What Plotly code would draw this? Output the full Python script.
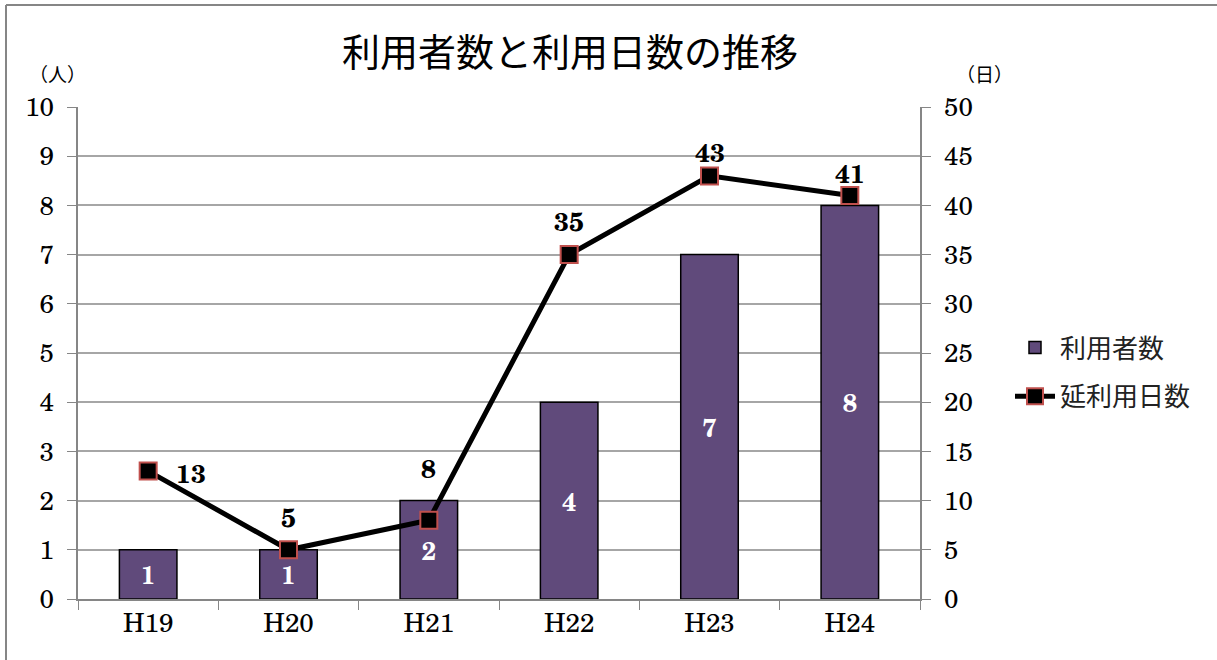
import plotly.graph_objects as go

categories = ["H19", "H20", "H21", "H22", "H23", "H24"]
users = [1, 1, 2, 4, 7, 8]
days = [13, 5, 8, 35, 43, 41]

serif = "Century Schoolbook, TeX Gyre Schola, Liberation Serif, DejaVu Serif, serif"
cjk = "Noto Sans CJK JP, sans-serif"

W, H = 1217, 660
L, T = 78, 107
PW, PH = 842, 492
R, B = W - L - PW, H - T - PH

# label offsets (pixels) for the line's data labels
label_shift = [(26, -2, "left"), (0, 33, "center"), (0, 52, "center"),
               (0, 34, "center"), (0, 24, "center"), (0, 23, "center")]


def px(xw):
    return (xw - L) / PW


def py(yw):
    return (T + PH - yw) / PH


fig = go.Figure()
fig.add_trace(go.Bar(
    x=categories, y=users, name="利用者数", legendgroup="a",
    marker=dict(color="#604A7B", line=dict(color="#000000", width=1.5)),
    width=0.41,
    text=["<b>%d</b>" % v for v in users], textposition="inside", insidetextanchor="middle",
    textfont=dict(family=serif, size=25, color="white"),
    textangle=0,
))
fig.add_trace(go.Scatter(
    x=categories, y=days, name="延利用日数", yaxis="y2", mode="lines+markers", legendgroup="b",
    line=dict(color="#000000", width=5),
    marker=dict(symbol="square", size=17, color="#000000", line=dict(color="#C0504D", width=2)),
))

annotations = []
for c, v, (xs, ys, xa) in zip(categories, days, label_shift):
    annotations.append(dict(
        x=c, y=v, xref="x", yref="y2", text="<b>%d</b>" % v, showarrow=False,
        xshift=xs, yshift=ys, xanchor=xa, yanchor="middle",
        font=dict(family=serif, size=26, color="#000000"),
    ))

annotations += [
    dict(text="（人）", xref="paper", yref="paper", x=px(57), y=py(73),
         showarrow=False, xanchor="center", yanchor="middle",
         font=dict(family=cjk, size=19, color="#000000")),
    dict(text="（日）", xref="paper", yref="paper", x=px(985), y=py(73),
         showarrow=False, xanchor="center", yanchor="middle",
         font=dict(family=cjk, size=19, color="#000000")),
]

axis_common = dict(
    ticks="outside", ticklen=9, tickcolor="#868686", showline=True, linecolor="#868686",
    linewidth=1.5, tickfont=dict(family=serif, size=26, color="#000000"), zeroline=False,
)

fig.update_layout(
    width=W, height=H,
    margin=dict(l=L, r=R, t=T, b=B, pad=0),
    paper_bgcolor="white", plot_bgcolor="white",
    title=dict(text="利用者数と利用日数の推移", x=570 / W, xanchor="center",
               y=1 - 53 / H, yanchor="middle",
               font=dict(family=cjk, size=38, color="#000000")),
    showlegend=True,
    legend=dict(x=px(1010), y=py(372), xanchor="left", yanchor="middle",
                font=dict(family=cjk, size=26, color="#222222"),
                bgcolor="rgba(0,0,0,0)", tracegroupgap=12, itemwidth=40),
    xaxis=dict(type="category", showgrid=False, tickson="boundaries", **axis_common),
    yaxis=dict(range=[0, 10], dtick=1, showgrid=True, gridcolor="#A6A6A6", gridwidth=1.5,
               ticklabelstandoff=8, **axis_common),
    yaxis2=dict(range=[0, 50], dtick=5, overlaying="y", side="right", showgrid=False,
                ticklabelstandoff=8, **axis_common),
    annotations=annotations,
    shapes=[
        dict(type="line", xref="paper", yref="paper",
             x0=px(6), x1=px(6), y0=py(H + 5), y1=py(5),
             line=dict(color="#868686", width=2), layer="below"),
        dict(type="line", xref="paper", yref="paper",
             x0=px(6), x1=px(W + 5), y0=py(5), y1=py(5),
             line=dict(color="#868686", width=2), layer="below"),
    ],
)

fig.write_html("out.html", config={"displayModeBar": False},
               post_script="document.body.style.margin='0';document.body.style.overflow='hidden';")
